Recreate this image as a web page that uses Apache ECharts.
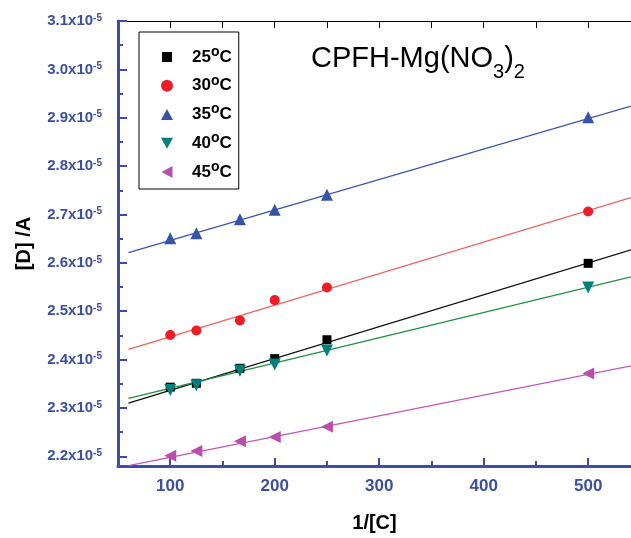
<!DOCTYPE html>
<html>
<head>
<meta charset="utf-8">
<script src="https://cdn.jsdelivr.net/npm/echarts@6/dist/echarts.min.js"></script>
<style>
  html, body { margin: 0; padding: 0; background: #fff; }
  #main { width: 631px; height: 538px; }
</style>
</head>
<body>
<div id="main"></div>
<script>
// 1/[C] values and [D]/A in units of 1e-5
const invC = [100, 125, 166.7, 200, 250, 500];
const temps = ['25', '30', '35', '40', '45'];
const d25 = [2.343, 2.351, 2.382, 2.402, 2.441, 2.599];
const d30 = [2.451, 2.460, 2.481, 2.523, 2.549, 2.706];
const d35 = [2.651, 2.661, 2.690, 2.710, 2.741, 2.901];
const d40 = [2.337, 2.347, 2.377, 2.390, 2.419, 2.549];
const d45 = [2.201, 2.211, 2.231, 2.240, 2.261, 2.371];

// fitted lines, read at both ends of the drawn range
const fitX = [60, 541];
const fit25 = [2.310, 2.627];
const fit30 = [2.421, 2.735];
const fit35 = [2.621, 2.924];
const fit40 = [2.320, 2.571];
const fit45 = [2.181, 2.387];

const xTicks = [100, 200, 300, 400, 500];
const xMinor = [150, 250, 350, 450];
const topTicks = [100, 150, 200, 250, 300, 350, 400, 450, 500];
const yTicks = [2.2, 2.3, 2.4, 2.5, 2.6, 2.7, 2.8, 2.9, 3.0, 3.1];
const yMinor = [2.25, 2.35, 2.45, 2.55, 2.65, 2.75, 2.85, 2.95, 3.05];

const blue = '#3b4fa2';
const font = 'Liberation Sans, Arial, sans-serif';

// legend icons (box 12x12)
const icons = [
  'path://M0,0L0,0.01M1,1L11,1L11,11L1,11ZM12,12L12,12.01',
  'circle',
  'path://M0,12L6,1L12,12Z',
  'path://M0,0L12,0L6,11Z',
  'path://M12,0L12,12L1,6Z'
];

const groups = [
  { data: d25, fit: fit25, color: '#000000', line: '#111111', symbol: 'rect', size: 9, rot: 0 },
  { data: d30, fit: fit30, color: '#ee1c24', line: '#f26060', symbol: 'circle', size: 10, rot: 0 },
  { data: d35, fit: fit35, color: '#3953a4', line: '#3953b4', symbol: 'triangle', size: 12, rot: 0 },
  { data: d40, fit: fit40, color: '#00807a', line: '#1f8f3f', symbol: 'triangle', size: 12, rot: 180 },
  { data: d45, fit: fit45, color: '#b94fab', line: '#c257b6', symbol: 'triangle', size: 12, rot: 90 }
];

const series = [];
groups.forEach((g, i) => {
  series.push({
    type: 'line',
    data: fitX.map((x, k) => [x, g.fit[k]]),
    showSymbol: false,
    lineStyle: { color: g.line, width: 1.3 },
    silent: true,
    z: 2
  });
});
groups.forEach((g, i) => {
  series.push({
    name: temps[i] + '°C',
    type: 'scatter',
    data: invC.map((x, k) => [x, g.data[k]]),
    symbol: g.symbol,
    symbolSize: g.size,
    symbolRotate: g.rot,
    itemStyle: { color: g.color, opacity: 1 },
    z: 3
  });
});

const chart = echarts.init(document.getElementById('main'));
chart.setOption({
  animation: false,
  textStyle: { fontFamily: font },
  title: {
    text: '{n|CPFH-Mg(NO}{b|3}{n|)}{b|2}',
    left: 306,
    top: 29,
    textStyle: {
      rich: {
        n: { fontSize: 29, fontWeight: 'normal', color: '#000', fontFamily: font, lineHeight: 50 },
        b: { fontSize: 20, fontWeight: 'normal', color: '#000', fontFamily: font, lineHeight: 18, padding: [29, 0, 3, 0] }
      }
    }
  },
  legend: {
    orient: 'vertical',
    left: 139,
    top: 32,
    padding: [13, 7, 5, 22],
    itemGap: 4.75,
    itemWidth: 12,
    itemHeight: 12,
    borderColor: '#000',
    borderWidth: 1,
    data: temps.map((t, i) => ({ name: t + '°C', icon: icons[i] })),
    formatter: name => '{f|' + name.replace('°C', '') + '}{s|o}{n|C}',
    textStyle: {
      lineHeight: 24,
      rich: {
        f: { fontSize: 17, fontWeight: 'bold', color: '#000', fontFamily: font, lineHeight: 24, padding: [0, 0, 0, 14] },
        n: { fontSize: 17, fontWeight: 'bold', color: '#000', fontFamily: font, lineHeight: 24 },
        s: { fontSize: 14, fontWeight: 'bold', color: '#000', fontFamily: font, lineHeight: 14, padding: [0, 0, 10, 0] }
      }
    }
  },
  grid: { left: 118, right: 0, top: 21, bottom: 67 },
  xAxis: [
    {
      type: 'value', min: 50, max: 541, position: 'bottom',
      name: '1/[C]', nameLocation: 'middle', nameGap: 47,
      nameTextStyle: { fontSize: 20, fontWeight: 'bold', color: '#000', fontFamily: font },
      axisLine: { lineStyle: { color: blue, width: 3 } },
      axisTick: { inside: true, length: 8, lineStyle: { color: blue, width: 2 }, customValues: xTicks },
      axisLabel: { customValues: xTicks, color: blue, fontWeight: 'bold', fontSize: 17, margin: 12 },
      splitLine: { show: false }
    },
    {
      type: 'value', min: 50, max: 541, position: 'bottom',
      axisLine: { show: false },
      axisTick: { inside: true, length: 5, lineStyle: { color: blue, width: 2 }, customValues: xMinor },
      axisLabel: { show: false },
      splitLine: { show: false }
    },
    {
      type: 'value', min: 50, max: 541, position: 'top',
      axisLine: { lineStyle: { color: '#000', width: 1 } },
      axisTick: { inside: true, length: 7, lineStyle: { color: '#000', width: 1 }, customValues: topTicks },
      axisLabel: { show: false },
      splitLine: { show: false }
    }
  ],
  yAxis: [
    {
      type: 'value', min: 2.18, max: 3.1, position: 'left',
      name: '[D] /A', nameLocation: 'middle', nameGap: 84,
      nameTextStyle: { fontSize: 20, fontWeight: 'bold', color: '#000', fontFamily: font },
      axisLine: { lineStyle: { color: blue, width: 3 } },
      axisTick: { inside: true, length: 9, lineStyle: { color: blue, width: 2 }, customValues: yTicks },
      axisLabel: {
        customValues: yTicks,
        margin: 16,
        formatter: v => '{a|' + v.toFixed(1) + 'x10}{s|-5}',
        rich: {
          a: { fontSize: 15, fontWeight: 'bold', color: blue, fontFamily: font, lineHeight: 16 },
          s: { fontSize: 10, fontWeight: 'bold', color: blue, fontFamily: font, lineHeight: 10, padding: [0, 0, 6, 0] }
        }
      },
      splitLine: { show: false }
    },
    {
      type: 'value', min: 2.18, max: 3.1, position: 'left',
      axisLine: { show: false },
      axisTick: { inside: true, length: 5, lineStyle: { color: blue, width: 2 }, customValues: yMinor },
      axisLabel: { show: false },
      splitLine: { show: false }
    }
  ],
  series: series
});
</script>
</body>
</html>
